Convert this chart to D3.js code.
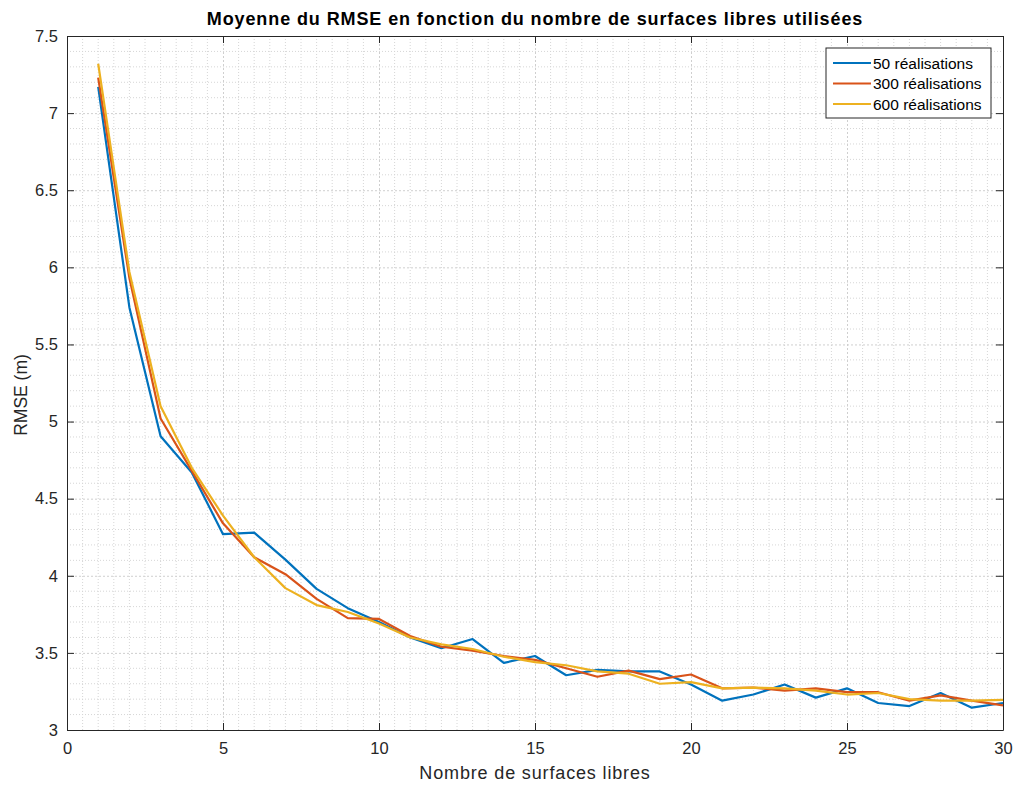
<!DOCTYPE html>
<html>
<head>
<meta charset="utf-8">
<script src="https://cdn.jsdelivr.net/npm/d3@7"></script>
<style>
  body { margin: 0; background: #fff; }
  svg { font-family: "Liberation Sans", Arial, sans-serif; }
</style>
</head>
<body>
<svg id="chart" width="1016" height="785"></svg>
<script>
// x values (nombre de surfaces libres)
const surfaces = d3.range(1, 31);

// RMSE moyen, 50 réalisations
const rmse50 = [7.17, 5.74, 4.905, 4.67, 4.27, 4.28, 4.105, 3.915, 3.79, 3.70,
  3.60, 3.53, 3.59, 3.435, 3.48, 3.355, 3.39, 3.38, 3.38, 3.295,
  3.19, 3.23, 3.295, 3.21, 3.27, 3.175, 3.155, 3.24, 3.145, 3.175];
// 300 réalisations
const rmse300 = [7.23, 5.93, 5.02, 4.68, 4.34, 4.12, 4.01, 3.85, 3.725, 3.72,
  3.61, 3.54, 3.515, 3.48, 3.455, 3.40, 3.345, 3.385, 3.33, 3.36,
  3.27, 3.275, 3.255, 3.27, 3.245, 3.245, 3.19, 3.225, 3.19, 3.16];
// 600 réalisations
const rmse600 = [7.32, 5.97, 5.10, 4.70, 4.39, 4.12, 3.92, 3.81, 3.765, 3.69,
  3.60, 3.555, 3.525, 3.475, 3.44, 3.42, 3.38, 3.365, 3.30, 3.31,
  3.27, 3.275, 3.27, 3.255, 3.23, 3.24, 3.20, 3.19, 3.19, 3.195];

const seriesNames = ["50 réalisations", "300 réalisations", "600 réalisations"];
const seriesColors = ["#0072BD", "#D95319", "#EDB120"];
const xTicks = [0, 5, 10, 15, 20, 25, 30];
const yTicks = [3, 3.5, 4, 4.5, 5, 5.5, 6, 6.5, 7, 7.5];

const margin = { top: 36, right: 13, bottom: 55, left: 67 };
const width = 1016, height = 785;
const chartWidth = width - margin.left - margin.right;
const chartHeight = height - margin.top - margin.bottom;

const svg = d3.select('#chart');
const g = svg.append('g').attr('transform', `translate(${margin.left},${margin.top})`);

const xScale = d3.scaleLinear().domain([0, 30]).range([0, chartWidth]);
const yScale = d3.scaleLinear().domain([3, 7.5]).range([chartHeight, 0]);

// minor grid (dotted)
g.append('g')
  .selectAll('line')
  .data(d3.range(0, 30.01, 0.5).filter(v => v % 5 !== 0))
  .join('line')
  .attr('x1', d => xScale(d)).attr('x2', d => xScale(d))
  .attr('y1', 0).attr('y2', chartHeight)
  .attr('stroke', '#d6d6d6').attr('stroke-width', 1).attr('stroke-dasharray', '1,2');
g.append('g')
  .selectAll('line')
  .data(d3.range(30, 75.1, 1).map(v => v / 10).filter(v => Math.round(v * 10) % 5 !== 0))
  .join('line')
  .attr('y1', d => yScale(d)).attr('y2', d => yScale(d))
  .attr('x1', 0).attr('x2', chartWidth)
  .attr('stroke', '#d6d6d6').attr('stroke-width', 1).attr('stroke-dasharray', '1,2');

// major grid
g.append('g')
  .call(d3.axisBottom(xScale).tickValues(xTicks).tickSize(chartHeight).tickFormat(''))
  .call(a => a.select('.domain').remove())
  .selectAll('line').attr('stroke', '#cfcfcf').attr('stroke-dasharray', '2,2');
g.append('g')
  .call(d3.axisRight(yScale).tickValues(yTicks).tickSize(chartWidth).tickFormat(''))
  .call(a => a.select('.domain').remove())
  .selectAll('line').attr('stroke', '#cfcfcf').attr('stroke-dasharray', '2,2');

// lines
const line = d3.line()
  .x((d, i) => xScale(surfaces[i]))
  .y(d => yScale(d));

[rmse50, rmse300, rmse600].forEach((vals, i) => {
  g.append('path')
    .datum(vals)
    .attr('d', line)
    .attr('fill', 'none')
    .attr('stroke', seriesColors[i])
    .attr('stroke-width', 2.2)
    .attr('stroke-linejoin', 'round');
});

// axes (ticks inside, on all four sides)
const axisColor = '#262626';
const styleAxis = a => {
  a.select('.domain').attr('stroke', axisColor);
  a.selectAll('.tick line').attr('stroke', axisColor);
  a.selectAll('.tick text').attr('fill', axisColor).style('font-size', '16.5px');
};
g.append('g')
  .attr('transform', `translate(0,${chartHeight})`)
  .call(d3.axisBottom(xScale).tickValues(xTicks).tickSizeInner(-7).tickSizeOuter(0).tickPadding(12))
  .call(styleAxis);
g.append('g')
  .call(d3.axisLeft(yScale).tickValues(yTicks).tickSizeInner(-7).tickSizeOuter(0).tickPadding(9).tickFormat(d3.format('~g')))
  .call(styleAxis);
g.append('g')
  .call(d3.axisTop(xScale).tickValues(xTicks).tickSizeInner(-7).tickSizeOuter(0).tickFormat(''))
  .call(styleAxis);
g.append('g')
  .attr('transform', `translate(${chartWidth},0)`)
  .call(d3.axisRight(yScale).tickValues(yTicks).tickSizeInner(-7).tickSizeOuter(0).tickFormat(''))
  .call(styleAxis);

// title and axis labels
svg.append('text')
  .attr('x', margin.left + chartWidth / 2)
  .attr('y', 25)
  .attr('text-anchor', 'middle')
  .style('font-size', '18px')
  .style('font-weight', 'bold')
  .style('letter-spacing', '0.9px')
  .attr('fill', '#000')
  .text('Moyenne du RMSE en fonction du nombre de surfaces libres utilisées');

svg.append('text')
  .attr('x', margin.left + chartWidth / 2)
  .attr('y', 779)
  .attr('text-anchor', 'middle')
  .style('font-size', '18px')
  .style('letter-spacing', '0.85px')
  .attr('fill', axisColor)
  .text('Nombre de surfaces libres');

svg.append('text')
  .attr('transform', `translate(27,${margin.top + chartHeight / 2 + 12}) rotate(-90)`)
  .attr('text-anchor', 'middle')
  .style('font-size', '17.5px')
  .attr('fill', axisColor)
  .text('RMSE (m)');

// legend
const legend = svg.append('g').attr('transform', 'translate(826,48)');
legend.append('rect')
  .attr('width', 165).attr('height', 70)
  .attr('fill', '#fff').attr('stroke', axisColor).attr('stroke-width', 1);
seriesNames.forEach((name, i) => {
  const y = 15 + i * 20.5;
  legend.append('line')
    .attr('x1', 7).attr('x2', 45).attr('y1', y).attr('y2', y)
    .attr('stroke', seriesColors[i]).attr('stroke-width', 2.2);
  legend.append('text')
    .attr('x', 47).attr('y', y + 5.5)
    .style('font-size', '15.5px')
    .attr('fill', '#000')
    .text(name);
});
</script>
</body>
</html>
